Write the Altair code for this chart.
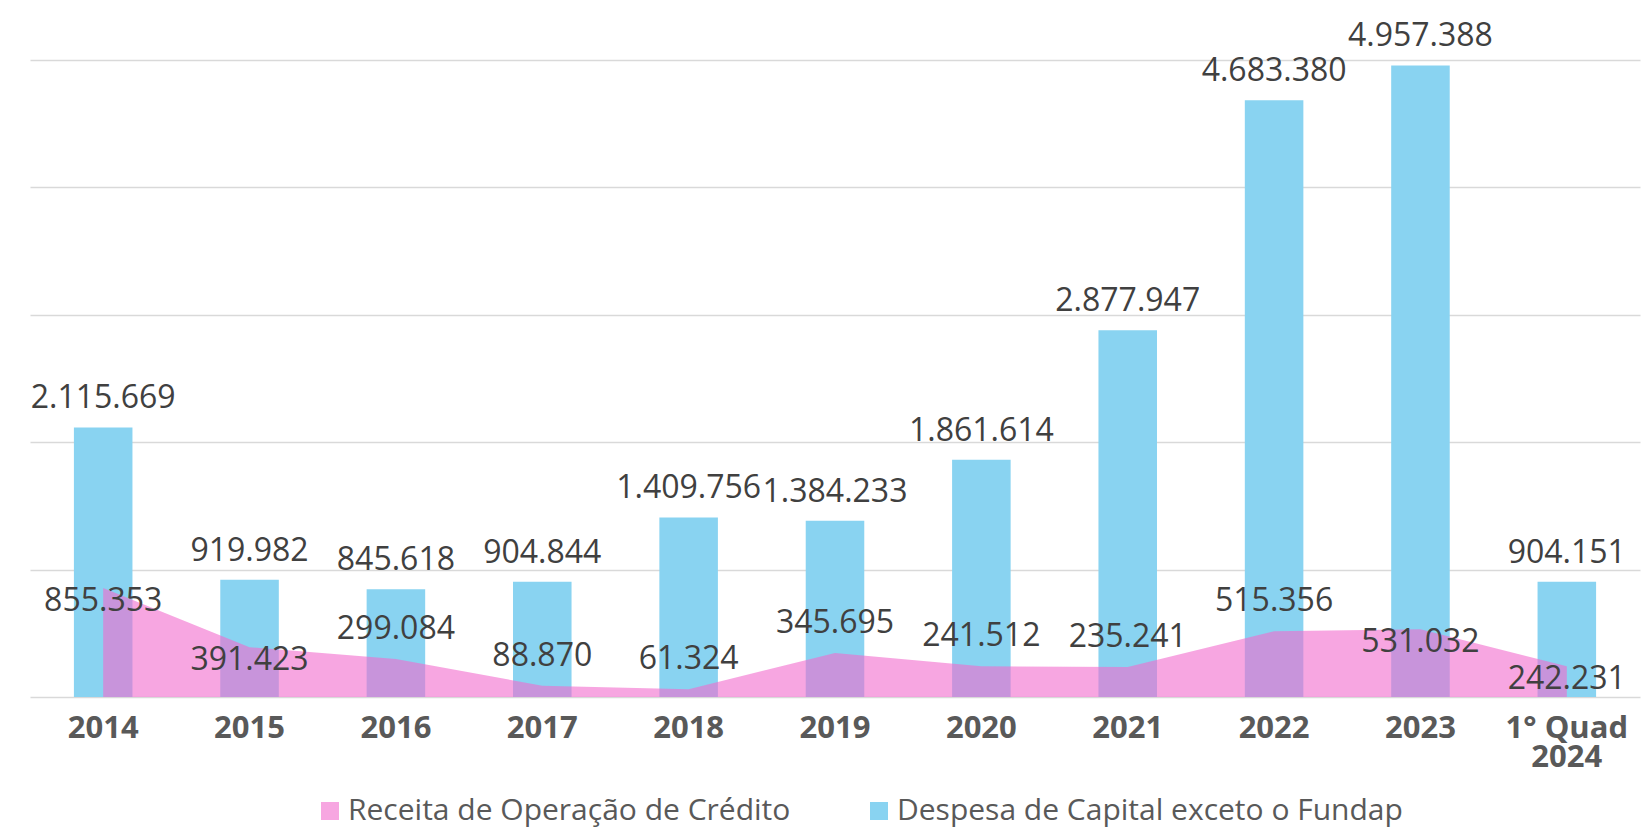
import altair as alt
import pandas as pd

# ---- data ----
categorias = ["2014", "2015", "2016", "2017", "2018", "2019", "2020",
              "2021", "2022", "2023", "1° Quad\n2024"]
despesa_capital = [2115669, 919982, 845618, 904844, 1409756, 1384233,
                   1861614, 2877947, 4683380, 4957388, 904151]
receita_credito = [855353, 391423, 299084, 88870, 61324, 345695,
                   241512, 235241, 515356, 531032, 242231]
lado_rotulo_receita = ["abaixo", "abaixo", "acima", "acima", "acima", "acima",
                       "acima", "acima", "acima", "abaixo", "abaixo"]
series = ["Receita de Operação de Crédito", "Despesa de Capital exceto o Fundap"]
valores_grade = [0, 1000000, 2000000, 3000000, 4000000, 5000000]


def br(v):
    return f"{v:,}".replace(",", ".")


df = pd.DataFrame({
    "categoria": categorias,
    "despesa": despesa_capital,
    "receita": receita_credito,
    "lado": lado_rotulo_receita,
    "rot_despesa": [br(v) for v in despesa_capital],
    "rot_receita": [br(v) for v in receita_credito],
    "serie_receita": [series[0]] * len(categorias),
    "serie_despesa": [series[1]] * len(categorias),
})

FONT = "Open Sans"
PINK = "rgba(242,107,205,0.6)"
BLUE = "#89D3F1"

x_enc = alt.X(
    "categoria:N", sort=categorias, title=None,
    scale=alt.Scale(paddingInner=0.6, paddingOuter=0.3),
    axis=alt.Axis(labelExpr="split(datum.value, '\\n')", labelAngle=0,
                  labelFont=FONT, labelFontSize=31, labelFontWeight="bold",
                  labelColor="#595959", labelPadding=16, labelLineHeight=29,
                  ticks=False, domain=False, grid=False),
)
y_scale = alt.Scale(domain=[0, 5000000], nice=False)
y_axis = alt.Axis(values=valores_grade, labels=False, ticks=False, domain=False,
                  grid=True, gridColor="#D9D9D9", gridWidth=1.5, title=None)

color_scale = alt.Scale(domain=series, range=[PINK, BLUE])
legend = alt.Legend(orient="none", legendX=285, legendY=736, direction="horizontal",
                    title=None, symbolType="square", symbolSize=324,
                    symbolStrokeWidth=0, labelFont=FONT, labelFontSize=30,
                    labelColor="#595959", labelOffset=3, columnPadding=73,
                    labelLimit=700)

base = alt.Chart(df)

bars = base.mark_bar().encode(
    x=x_enc,
    y=alt.Y("despesa:Q", scale=y_scale, axis=y_axis),
    color=alt.Color("serie_despesa:N", scale=color_scale, legend=legend),
)

area = base.mark_area(opacity=1).encode(
    x=x_enc,
    y=alt.Y("receita:Q", scale=y_scale),
    color=alt.Color("serie_receita:N", scale=color_scale, legend=legend),
)

bar_labels = base.mark_text(font=FONT, fontSize=32, color="#404040",
                            baseline="middle", dy=-29).encode(
    x=x_enc, y=alt.Y("despesa:Q", scale=y_scale), text="rot_despesa:N")

area_labels_up = base.transform_filter("datum.lado == 'acima'").mark_text(
    font=FONT, fontSize=32, color="#404040", baseline="middle", dy=-30).encode(
    x=x_enc, y=alt.Y("receita:Q", scale=y_scale), text="rot_receita:N")

area_labels_down = base.transform_filter("datum.lado == 'abaixo'").mark_text(
    font=FONT, fontSize=32, color="#404040", baseline="middle", dy=13).encode(
    x=x_enc, y=alt.Y("receita:Q", scale=y_scale), text="rot_receita:N")

chart = alt.layer(bars, area, bar_labels, area_labels_up, area_labels_down).properties(
    width=1610, height=637,
    autosize=alt.AutoSizeParams(type="none"),
    padding={"left": 22, "top": 52, "right": 4, "bottom": 132},
    background="white",
).configure_view(stroke=None)

chart.save("out.html", embed_options={"renderer": "svg", "actions": False})
